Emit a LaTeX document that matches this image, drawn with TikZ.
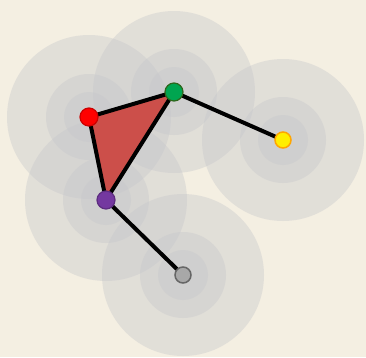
\documentclass[tikz,border=0pt]{standalone}
\usepackage{xcolor}
\usepackage{tikz}
\usetikzlibrary{positioning}

\pgfdeclarelayer{background}
\pgfsetlayers{background,main}

\tikzset{
  dot/.style={circle, inner sep=0pt, minimum size=18pt, line width=1.2pt},
  halo/.style={fill=haloGray, fill opacity=0.4},
  link/.style={line width=4pt, black}
}

\begin{document}
\begin{tikzpicture}[x=1pt, y=-1pt]
  \definecolor{paper}{HTML}{F4EFE2}
  \definecolor{haloGray}{HTML}{C6C7CB}
  \definecolor{triRed}{HTML}{CC4F4A}
  \definecolor{ptRed}{HTML}{FF0000}
  \definecolor{ptGreen}{HTML}{00A550}
  \definecolor{ptYellow}{HTML}{FFEE00}
  \definecolor{ptPurple}{HTML}{7438A0}
  \definecolor{ptGray}{HTML}{A8A8A8}

  \useasboundingbox (0,0) rectangle (366,357);

  % points
  \node[dot, fill=ptRed, draw=ptRed!80!black] (red) at (89,117) {};
  \node[dot, fill=ptGreen, draw=ptGreen!50!olive!70!black] (green) at (174,92) {};
  \node[dot, fill=ptYellow, draw=orange!70!yellow, minimum size=16pt, line width=1.5pt] (yellow) at (283,140) {};
  \node[dot, fill=ptPurple, draw=ptPurple!80!black] (purple) at (106,200) {};
  \node[dot, fill=ptGray, draw=gray!80!black, minimum size=16pt, line width=1.5pt] (grey) at (183,275) {};

  \begin{pgfonlayer}{background}
    \fill[paper] (0,0) rectangle (366,357);

    % halos
    \fill[halo] (red.center) circle (82);    \fill[halo] (red.center) circle (43);    \fill[halo] (red.center) circle (25);
    \fill[halo] (green.center) circle (81);  \fill[halo] (green.center) circle (43);  \fill[halo] (green.center) circle (25);
    \fill[halo] (yellow.center) circle (81); \fill[halo] (yellow.center) circle (43); \fill[halo] (yellow.center) circle (25);
    \fill[halo] (purple.center) circle (81); \fill[halo] (purple.center) circle (43); \fill[halo] (purple.center) circle (25);
    \fill[halo] (grey.center) circle (81);   \fill[halo] (grey.center) circle (43);   \fill[halo] (grey.center) circle (25);

    % triangle
    \fill[triRed] (red.center) -- (green.center) -- (purple.center) -- cycle;

    % links
    \draw[link] (red.center) -- (green.center);
    \draw[link] (green.center) -- (purple.center);
    \draw[link] (purple.center) -- (red.center);
    \draw[link] (green.center) -- (yellow.center);
    \draw[link] (purple.center) -- (grey.center);
  \end{pgfonlayer}
\end{tikzpicture}
\end{document}
